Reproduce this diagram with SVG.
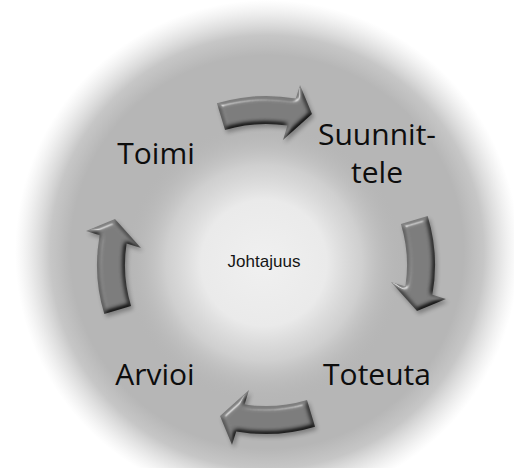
<svg xmlns="http://www.w3.org/2000/svg" xmlns:xlink="http://www.w3.org/1999/xlink" width="514" height="468" viewBox="0 0 514 468">
  <style>
    .step { font-family: "Open Sans", "Liberation Sans", sans-serif; font-size: 30px; fill: #0d0d0d; text-anchor: middle; }
    .core { font-family: "Liberation Sans", Arial, sans-serif; font-size: 17px; fill: #151515; text-anchor: middle; }
    .arrow { fill: #7c7c7c; }
  </style>
  <defs>
    <!-- soft-edged grey disc -->
    <radialGradient id="discFill" gradientUnits="userSpaceOnUse" cx="267" cy="252" r="252">
      <stop offset="0" stop-color="#b6b6b6" stop-opacity="1"/>
      <stop offset="0.78" stop-color="#b6b6b6" stop-opacity="1"/>
      <stop offset="0.86" stop-color="#bababa" stop-opacity="0.82"/>
      <stop offset="0.93" stop-color="#c6c6c6" stop-opacity="0.42"/>
      <stop offset="1" stop-color="#d4d4d4" stop-opacity="0"/>
    </radialGradient>
    <!-- bright centre of the disc -->
    <radialGradient id="coreGlow" gradientUnits="userSpaceOnUse" cx="264" cy="263" r="140">
      <stop offset="0" stop-color="#f0f0f0" stop-opacity="1"/>
      <stop offset="0.45" stop-color="#eaeaea" stop-opacity="1"/>
      <stop offset="0.7" stop-color="#dadada" stop-opacity="0.7"/>
      <stop offset="1" stop-color="#b6b6b6" stop-opacity="0"/>
    </radialGradient>
    <!-- bevelled, lit look for the cycle arrows -->
    <filter id="bevel" x="-25%" y="-25%" width="150%" height="150%" color-interpolation-filters="sRGB">
      <feGaussianBlur in="SourceAlpha" stdDeviation="2.4" result="blur"/>
      <feDiffuseLighting in="blur" surfaceScale="4" diffuseConstant="1.14" lighting-color="#ffffff" result="diff">
        <feDistantLight azimuth="235" elevation="60"/>
      </feDiffuseLighting>
      <feSpecularLighting in="blur" surfaceScale="4" specularConstant="0.5" specularExponent="34" lighting-color="#ffffff" result="spec">
        <feDistantLight azimuth="235" elevation="38"/>
      </feSpecularLighting>
      <feComposite in="diff" in2="SourceGraphic" operator="arithmetic" k1="1" result="shade"/>
      <feComposite in="spec" in2="SourceAlpha" operator="in" result="specIn"/>
      <feComposite in="shade" in2="specIn" operator="arithmetic" k2="1" k3="0.7" result="lit"/>
      <feGaussianBlur in="SourceAlpha" stdDeviation="2" result="sh"/>
      <feOffset in="sh" dx="1.5" dy="2.5" result="shOff"/>
      <feComponentTransfer in="shOff" result="shadow">
        <feFuncA type="linear" slope="0.3"/>
      </feComponentTransfer>
      <feMerge>
        <feMergeNode in="shadow"/>
        <feMergeNode in="lit"/>
      </feMerge>
    </filter>
    <!-- curved block arrow on the ring, drawn at the top position pointing clockwise -->
    <path id="cycleArrow" class="arrow"
          d="M 216.9 103.3 A 169 169 0 0 1 295.8 98.6 L 300 85 L 312 114 L 283 140 L 287.4 125.6 A 141 141 0 0 0 225 130.1 Z"/>
  </defs>

  <rect x="0" y="0" width="514" height="468" fill="#ffffff"/>

  <g id="background">
    <circle cx="267" cy="252" r="252" fill="url(#discFill)"/>
    <circle cx="264" cy="263" r="140" fill="url(#coreGlow)"/>
  </g>

  <g id="connectors">
    <g filter="url(#bevel)"><use xlink:href="#cycleArrow" href="#cycleArrow"/></g>
    <g filter="url(#bevel)"><use xlink:href="#cycleArrow" href="#cycleArrow" transform="rotate(90 266 265)"/></g>
    <g filter="url(#bevel)"><use xlink:href="#cycleArrow" href="#cycleArrow" transform="rotate(180 266 265)"/></g>
    <g filter="url(#bevel)"><use xlink:href="#cycleArrow" href="#cycleArrow" transform="rotate(270 266 265)"/></g>
  </g>

  <g id="node-johtajuus">
    <text class="core" x="264" y="267">Johtajuus</text>
  </g>
  <g id="node-suunnittele">
    <text class="step" x="377" y="145">Suunnit-</text>
    <text class="step" x="377" y="183">tele</text>
  </g>
  <g id="node-toteuta">
    <text class="step" x="377" y="385">Toteuta</text>
  </g>
  <g id="node-arvioi">
    <text class="step" x="155" y="385">Arvioi</text>
  </g>
  <g id="node-toimi">
    <text class="step" x="156" y="164">Toimi</text>
  </g>
</svg>
